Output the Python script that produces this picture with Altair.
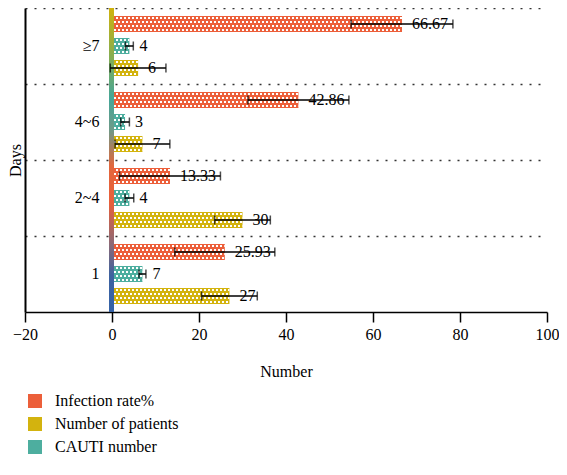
import altair as alt
import pandas as pd

# ---------------- data ----------------
days = ["≥7", "4~6", "2~4", "1"]
infection_rate = [66.67, 42.86, 13.33, 25.93]
infection_err = [11.7, 11.6, 11.6, 11.5]
patients = [6, 7, 30, 27]
patients_err = [6.4, 6.3, 6.4, 6.4]
cauti = [4, 3, 4, 7]
cauti_err = [0.9, 1.0, 1.0, 0.8]

series_names = ["Infection rate%", "Number of patients", "CAUTI number"]
series_colors = ["#EC5F3A", "#D3B30E", "#4DAE9F"]
bar_order = ["Infection rate%", "CAUTI number", "Number of patients"]

rows = []
for name, vals, errs, fmt in [
    ("Infection rate%", infection_rate, infection_err, "{:.2f}"),
    ("Number of patients", patients, patients_err, "{:d}"),
    ("CAUTI number", cauti, cauti_err, "{:d}"),
]:
    for d, v, e in zip(days, vals, errs):
        rows.append(dict(day=d, series=name, value=v, lo=v - e, hi=v + e,
                         label=fmt.format(v)))
df = pd.DataFrame(rows)

# ---------------- layout / style ----------------
W, H = 522, 304
BAR_H, STEP, OUTER = 16, 22, 8  # bar thickness / pitch / outer gap inside a group
FONT = "Liberation Serif"
FS = 16

y_axis = alt.Axis(
    title="Days", ticks=False, bandPosition=0, grid=True,
    gridDash=[2, 7], gridColor="#333333", gridWidth=1.5,
    labelPadding=-74, labelAlign="right", labelFontSize=FS,
    labelFont=FONT, labelColor="black",
    domainColor="black", domainWidth=2,
    titleFont=FONT, titleFontSize=FS, titleFontWeight="normal",
    titleColor="black", titlePadding=2,
)
y_enc = alt.Y("day:N", sort=days, scale=alt.Scale(paddingInner=0, paddingOuter=0),
              axis=y_axis)
yoff_enc = alt.YOffset(
    "series:N", sort=bar_order,
    scale=alt.Scale(paddingInner=(STEP - BAR_H) / STEP, paddingOuter=OUTER / STEP),
)
x_scale = alt.Scale(domain=[-20, 100], nice=False, zero=False)
x_axis = alt.Axis(
    title="Number", values=[-20, 0, 20, 40, 60, 80, 100], grid=False,
    tickSize=10, tickColor="black", tickWidth=1.5, labelFlush=False,
    domainColor="black", domainWidth=1.5,
    labelFont=FONT, labelFontSize=FS, labelColor="black", labelPadding=4,
    titleFont=FONT, titleFontSize=FS, titleFontWeight="normal",
    titleColor="black", titlePadding=21,
)

base = alt.Chart(df)

bars = base.mark_bar().encode(
    x=alt.X("value:Q", scale=x_scale, axis=x_axis),
    y=y_enc,
    yOffset=yoff_enc,
    color=alt.Color(
        "series:N",
        scale=alt.Scale(domain=series_names, range=series_colors),
        legend=alt.Legend(
            title=None, orient="none", legendX=2, legendY=385,
            direction="vertical", symbolType="square", symbolSize=196,
            symbolStrokeWidth=0, labelFont=FONT, labelFontSize=FS,
            labelColor="black", labelOffset=12, rowPadding=7,
        ),
    ),
)

# checkered fill texture: rows of white dashes over each bar
texture = []
for i, name in enumerate(bar_order):
    top = OUTER + STEP * i
    for r in range(4):
        texture.append(
            base.transform_filter(alt.datum.series == name)
            .transform_calculate(zero="0")
            .mark_rule(color="white", strokeWidth=2, strokeDash=[2, 2],
                       strokeDashOffset=2 * (r % 2), yOffset=top + 2 + 4 * r)
            .encode(
                x="zero:Q", x2="value:Q",
                y=alt.Y("day:N", sort=days, bandPosition=0),
            )
        )

gradient = alt.Gradient(
    gradient="linear",
    stops=[
        alt.GradientStop(color="#CFB20C", offset=0.0),
        alt.GradientStop(color="#8FAE48", offset=0.14),
        alt.GradientStop(color="#45A699", offset=0.30),
        alt.GradientStop(color="#6E9A88", offset=0.40),
        alt.GradientStop(color="#E2663C", offset=0.52),
        alt.GradientStop(color="#E95F3A", offset=0.64),
        alt.GradientStop(color="#8A6A78", offset=0.78),
        alt.GradientStop(color="#3D62A0", offset=0.88),
        alt.GradientStop(color="#3563A8", offset=1.0),
    ],
    x1=0, x2=0, y1=0, y2=1,
)
stripe = alt.Chart(alt.Data(values=[{}])).mark_rect(
    color=gradient, xOffset=-3, x2Offset=2
).encode(
    x=alt.datum(0, scale=x_scale),
    x2=alt.datum(0),
    y=alt.value(0),
    y2=alt.value(H),
)

labels = base.mark_text(
    align="left", baseline="middle", dx=10, font=FONT, fontSize=FS, color="black"
).encode(
    x="value:Q", y=y_enc, yOffset=yoff_enc, text="label:N"
)

err_line = base.mark_rule(color="black", strokeWidth=1.5).encode(
    x="lo:Q", x2="hi:Q", y=y_enc, yOffset=yoff_enc
)
cap_lo = base.mark_tick(color="black", thickness=1.5, size=9, orient="vertical").encode(
    x="lo:Q", y=y_enc, yOffset=yoff_enc
)
cap_hi = base.mark_tick(color="black", thickness=1.5, size=9, orient="vertical").encode(
    x="hi:Q", y=y_enc, yOffset=yoff_enc
)

chart = alt.layer(bars, *texture, stripe, labels, err_line, cap_lo, cap_hi).properties(
    width=W, height=H,
    autosize=alt.AutoSizeParams(type="none"),
    padding={"left": 17, "top": 0, "right": 12, "bottom": 146},
    background="white",
).configure_view(stroke=None)

chart.save("out.html", embed_options={"renderer": "svg", "actions": False})
